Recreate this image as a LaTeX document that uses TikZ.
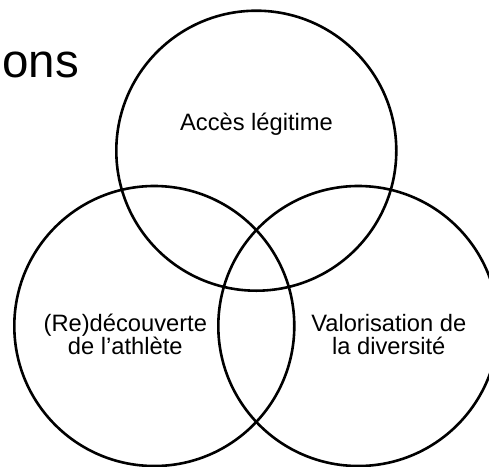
\documentclass[tikz,border=0pt]{standalone}
\usepackage{fontspec}
\setmainfont{Liberation Sans}
\begin{document}
\begin{tikzpicture}[x=1pt,y=-1pt,
  venn/.style={draw=black,line width=2.6pt,circle,minimum size=280pt,inner sep=0pt},
  lbl/.style={inner sep=0pt,align=center,font=\fontsize{23.7pt}{22.7pt}\selectfont}]
\useasboundingbox (0,0) rectangle (489,466);
\clip (0,0) rectangle (489,466);
\fill[white] (0,0) rectangle (489,466);
\node[anchor=base east,inner sep=0pt,font=\fontsize{47.5pt}{50pt}\selectfont] (title) at (79,77) {ons};
\node[venn] (top) at (256.3,150.7) {};
\node[venn] (left) at (154.3,326) {};
\node[venn] (right) at (358.3,326) {};
\node[lbl,anchor=base] (ltop) at (256.5,130) {Accès légitime};
\node[lbl,anchor=base] (lleft) at (125.3,354.5) {(Re)découverte\\de l’athlète};
\node[lbl,anchor=base] (lright) at (388.8,354.5) {Valorisation de\\la diversité};
\end{tikzpicture}
\end{document}
